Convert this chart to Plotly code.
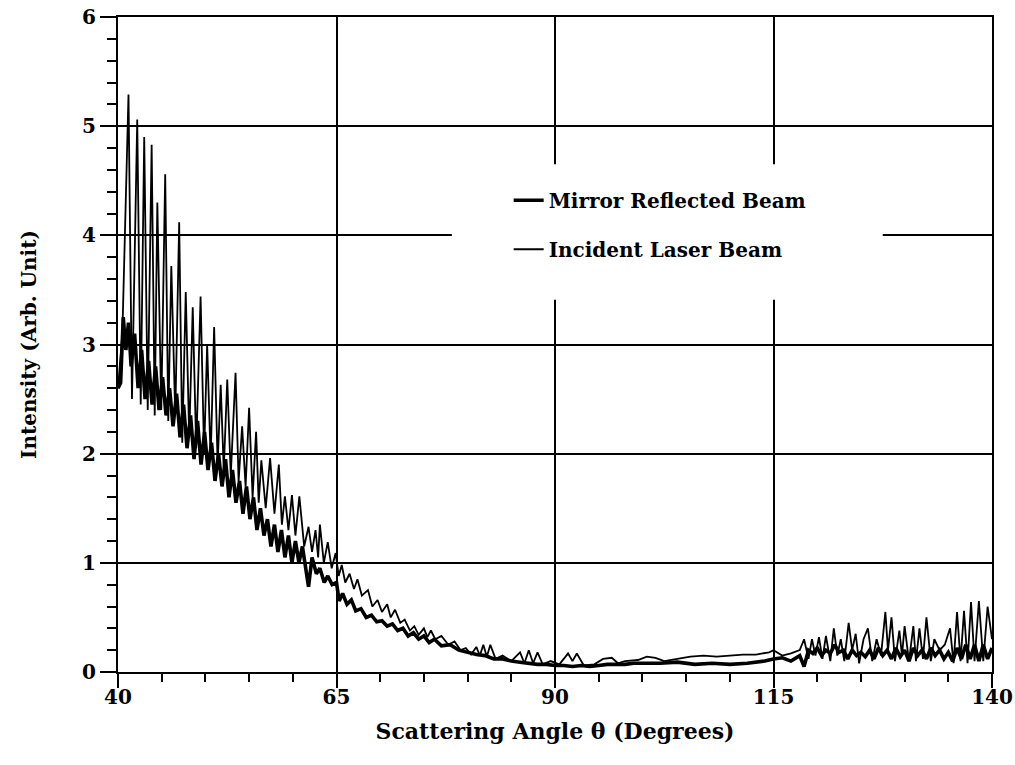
import plotly.graph_objects as go

# Incident Laser Beam (thin line) - peak/trough readings
inc_x = [40.0, 40.5, 41.2, 41.6, 42.2, 42.6, 43.0, 43.4, 43.85, 44.2, 44.5, 44.95, 45.4, 45.75,
         46.1, 46.55, 47.0, 47.35, 47.75, 48.15, 48.55, 48.95, 49.45, 49.85, 50.2, 50.6, 51.0,
         51.4, 51.75, 52.1, 52.5, 52.9, 53.45, 53.8, 54.2, 54.6, 55.0, 55.4, 55.8, 56.1, 56.4,
         56.9, 57.4, 57.9, 58.4, 58.75, 59.1, 59.5, 59.9, 60.3, 60.75, 61.3, 61.8, 62.2, 62.6,
         62.9, 63.1, 63.55, 64.0, 64.45, 64.9, 65.25, 65.6, 66.0, 66.5, 67.0, 67.4, 67.9, 68.6,
         69.1, 69.7, 70.2, 70.8, 71.2, 71.7, 72.3, 72.8, 73.4, 73.9, 74.4, 75.0, 75.4, 75.8,
         76.3, 77.0, 77.8, 78.5, 79.2, 79.8, 80.4, 81.0, 81.4, 81.8, 82.2, 82.6, 83.2, 84.0,
         85.0, 86.0, 86.5, 87.0, 87.5, 88.0, 88.6, 89.5, 90.5, 91.5, 92.0, 92.5, 93.3, 94.5,
         95.5, 96.5, 97.2, 98.0, 99.5, 100.5, 101.5, 102.5, 104.0, 105.5, 107.0, 108.5, 110.0,
         111.5, 113.0, 114.5, 115.0, 116.0, 117.0, 118.0, 118.5, 119.0, 119.4, 119.8, 120.2,
         120.6, 121.0, 121.5, 121.9, 122.3, 122.7, 123.1, 123.6, 124.0, 124.4, 124.8, 125.3,
         125.8, 126.3, 126.8, 127.3, 127.8, 128.1, 128.5, 128.9, 129.4, 129.7, 130.0, 130.5,
         131.0, 131.3, 131.7, 132.1, 132.5, 133.0, 133.4, 134.0, 134.6, 135.2, 135.6, 136.0,
         136.4, 136.8, 137.2, 137.6, 138.0, 138.5, 139.0, 139.5, 140.0]
inc_y = [2.6, 3.1, 5.29, 2.5, 5.06, 2.45, 4.90, 2.4, 4.83, 2.35, 4.30, 2.4, 4.56, 2.3,
         3.72, 2.35, 4.12, 2.1, 3.48, 2.15, 3.34, 2.05, 3.44, 2.0, 3.0, 1.95, 3.16,
         1.9, 2.63, 1.85, 2.68, 1.8, 2.74, 1.75, 2.25, 1.7, 2.42, 1.6, 2.20, 1.55, 1.94,
         1.5, 1.96, 1.45, 1.90, 1.35, 1.61, 1.3, 1.62, 1.25, 1.61, 1.15, 1.33, 1.1, 1.3,
         1.05, 1.35, 1.0, 1.19, 0.95, 1.09, 0.88, 0.98, 0.82, 0.9, 0.76, 0.85, 0.7, 0.75,
         0.6, 0.66, 0.55, 0.62, 0.5, 0.57, 0.45, 0.48, 0.38, 0.42, 0.34, 0.4, 0.32, 0.38,
         0.3, 0.33, 0.25, 0.28, 0.2, 0.22, 0.16, 0.23, 0.15, 0.25, 0.14, 0.25, 0.12, 0.15,
         0.1, 0.18, 0.08, 0.2, 0.08, 0.18, 0.07, 0.1, 0.07, 0.17, 0.1, 0.17, 0.06, 0.07,
         0.12, 0.13, 0.08, 0.1, 0.11, 0.14, 0.13, 0.1, 0.12, 0.14, 0.15, 0.14, 0.15,
         0.16, 0.16, 0.18, 0.2, 0.15, 0.17, 0.2, 0.3, 0.12, 0.3, 0.15, 0.32,
         0.12, 0.33, 0.1, 0.4, 0.15, 0.3, 0.1, 0.45, 0.2, 0.35, 0.08, 0.3,
         0.4, 0.1, 0.3, 0.15, 0.55, 0.2, 0.5, 0.1, 0.38, 0.15, 0.42, 0.1,
         0.42, 0.1, 0.4, 0.12, 0.5, 0.1, 0.3, 0.2, 0.25, 0.4, 0.08, 0.55,
         0.1, 0.56, 0.08, 0.64, 0.1, 0.65, 0.1, 0.6, 0.3]

# Mirror Reflected Beam (thick line)
mir_x = [40.0, 40.3, 40.6, 40.9, 41.2, 41.5, 41.9, 42.3, 42.7, 43.1, 43.5, 43.9, 44.3, 44.7,
         45.1, 45.5, 45.9, 46.3, 46.7, 47.1, 47.5, 47.9, 48.3, 48.7, 49.1, 49.5, 49.9, 50.3,
         50.7, 51.1, 51.5, 51.9, 52.3, 52.7, 53.1, 53.5, 53.9, 54.3, 54.7, 55.1, 55.5, 55.9,
         56.3, 56.7, 57.1, 57.5, 57.9, 58.3, 58.7, 59.1, 59.5, 59.9, 60.3, 60.7, 61.1, 61.5,
         61.8, 62.2, 62.7, 63.1, 63.6, 64.0, 64.5, 65.0, 65.3, 65.7, 66.2, 66.7, 67.2, 67.8,
         68.4, 69.0, 69.6, 70.2, 70.8, 71.4, 72.0, 72.6, 73.2, 73.8, 74.4, 75.0, 75.6, 76.2,
         77.0, 78.0, 79.0, 80.0, 81.0, 82.0, 83.0, 84.0, 85.0, 86.0, 87.0, 88.0, 89.0, 90.0,
         91.0, 92.0, 93.0, 94.0, 95.0, 96.0, 97.0, 98.0, 99.0, 100.0, 102.0, 104.0, 106.0,
         108.0, 110.0, 112.0, 114.0, 115.0, 116.0, 117.0, 118.0, 118.5, 119.0, 119.5, 120.0,
         120.5, 121.0, 121.5, 122.0, 122.5, 123.0, 123.5, 124.0, 124.5, 125.0, 125.5, 126.0,
         126.5, 127.0, 127.5, 128.0, 128.5, 129.0, 129.5, 130.0, 130.5, 131.0, 131.5, 132.0,
         132.5, 133.0, 133.5, 134.0, 134.5, 135.0, 135.5, 136.0, 136.5, 137.0, 137.5, 138.0,
         138.5, 139.0, 139.5, 140.0]
mir_y = [2.6, 2.65, 3.25, 2.95, 3.2, 2.8, 3.1, 2.6, 2.95, 2.5, 2.85, 2.45, 2.8, 2.4,
         2.7, 2.35, 2.6, 2.25, 2.55, 2.15, 2.45, 2.05, 2.35, 1.95, 2.3, 1.9, 2.2, 1.85,
         2.1, 1.75, 2.0, 1.7, 1.95, 1.6, 1.85, 1.55, 1.75, 1.45, 1.7, 1.4, 1.6, 1.3,
         1.5, 1.25, 1.4, 1.15, 1.35, 1.1, 1.3, 1.05, 1.25, 1.0, 1.2, 1.0, 1.15, 0.95,
         0.78, 1.05, 0.9, 0.95, 0.82, 0.88, 0.8, 0.82, 0.65, 0.72, 0.62, 0.66, 0.56, 0.58,
         0.5, 0.52, 0.46, 0.47, 0.42, 0.44, 0.38, 0.4, 0.33, 0.36, 0.3, 0.33, 0.27, 0.3,
         0.24, 0.25, 0.2, 0.18, 0.16, 0.15, 0.12, 0.12, 0.1, 0.09, 0.08, 0.07, 0.07, 0.06,
         0.06, 0.05, 0.06, 0.05, 0.06, 0.07, 0.07, 0.07, 0.08, 0.08, 0.08, 0.09, 0.07,
         0.08, 0.07, 0.08, 0.1, 0.12, 0.13, 0.1, 0.15, 0.05, 0.2, 0.17, 0.22,
         0.15, 0.2, 0.17, 0.25, 0.18, 0.2, 0.12, 0.2, 0.15, 0.18, 0.14, 0.2,
         0.12, 0.22, 0.15, 0.2, 0.12, 0.22, 0.14, 0.2, 0.1, 0.22, 0.15, 0.2,
         0.12, 0.22, 0.15, 0.2, 0.12, 0.18, 0.1, 0.22, 0.12, 0.25, 0.12, 0.25,
         0.1, 0.25, 0.12, 0.22]

x_ticks = [40, 65, 90, 115, 140]
y_ticks = [0, 1, 2, 3, 4, 5, 6]

FONT = "DejaVu Serif"

fig = go.Figure()
fig.add_trace(go.Scatter(x=mir_x, y=mir_y, mode="lines", name="Mirror Reflected Beam",
                         line=dict(color="black", width=3.6), legendgroup="a"))
fig.add_trace(go.Scatter(x=inc_x, y=inc_y, mode="lines", name="Incident Laser Beam",
                         line=dict(color="black", width=1.8), legendgroup="b"))

# white patch behind legend hiding the grid (as in the original)
fig.add_shape(type="rect", xref="x", yref="y", x0=78.2, x1=127.5, y0=3.41, y1=4.65,
              fillcolor="white", line=dict(width=0), layer="between")

fig.update_layout(
    width=1015, height=765,
    margin=dict(l=118, r=23, t=17, b=93),
    paper_bgcolor="white", plot_bgcolor="white",
    font=dict(family=FONT, color="black", size=18),
    showlegend=True,
    legend=dict(x=0.447, y=0.75, xanchor="left", yanchor="top", bgcolor="rgba(0,0,0,0)",
                font=dict(family=FONT, size=20, color="black", weight="bold"),
                traceorder="grouped", tracegroupgap=20, itemwidth=30),
)
fig.update_xaxes(
    range=[40, 140], tickvals=x_ticks, ticktext=[str(v) for v in x_ticks],
    automargin=False,
    showgrid=True, gridcolor="black", gridwidth=1.5,
    showline=True, linecolor="black", linewidth=2, mirror=True,
    ticks="outside", ticklen=14, tickwidth=2, tickcolor="black",
    minor=dict(dtick=5, ticks="outside", ticklen=8, tickwidth=1.5, tickcolor="black", showgrid=False),
    zeroline=False, tickfont=dict(size=20, family=FONT, weight="bold"),
    ticklabeloverflow="allow", ticklabelstandoff=-8,
    title=dict(text="Scattering Angle θ (Degrees)", font=dict(size=22, family=FONT, weight="bold"), standoff=16),
)
fig.update_yaxes(
    range=[0, 6], tickvals=y_ticks,
    automargin=False,
    showgrid=True, gridcolor="black", gridwidth=2,
    showline=True, linecolor="black", linewidth=2, mirror=True,
    ticks="outside", ticklen=16, tickwidth=2, tickcolor="black",
    minor=dict(dtick=0.2, ticks="outside", ticklen=9, tickwidth=1.5, tickcolor="black", showgrid=False),
    zeroline=False, tickfont=dict(size=20, family=FONT, weight="bold"),
    ticklabeloverflow="allow",
    title=dict(text="Intensity (Arb. Unit)", font=dict(size=20, family=FONT, weight="bold"), standoff=40),
)

fig.write_html("out.html")
